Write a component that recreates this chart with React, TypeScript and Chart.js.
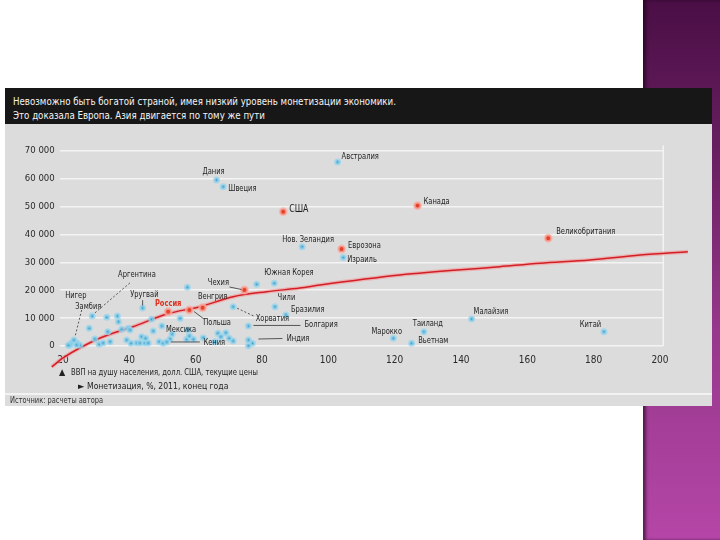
import React, { useEffect, useRef } from "react";
import { Chart, registerables } from "chart.js";

Chart.register(...registerables);

// ---- Data (x: monetization %, y: GDP per capita, USD) ----
const X_TICKS = [20, 40, 60, 80, 100, 120, 140, 160, 180, 200];
const Y_TICKS = [0, 10000, 20000, 30000, 40000, 50000, 60000, 70000];

const NAMED_COUNTRIES = [
  "Австралия", "Дания", "Швеция", "Нов. Зеландия", "Израиль", "Малайзия", "Таиланд",
  "Марокко", "Вьетнам", "Китай", "Южная Корея", "Хорватия", "Чили", "Бразилия",
  "Болгария", "Индия", "Аргентина", "Уругвай", "Нигер", "Замбия", "Мексика", "Кения",
];
const NAMED_MONET = [
  102.8, 66.3, 68.3, 92.1, 104.5, 143.2, 128.8,
  119.6, 125.1, 183.1, 83.7, 71.3, 83.9, 87.2,
  75.9, 75.9, 28.8, 44.0, 21.6, 23.3, 55.3, 51.3,
];
const NAMED_GDP = [
  66000, 59600, 57200, 35600, 31800, 9700, 5100,
  2800, 1000, 5100, 22500, 14100, 14100, 11100,
  7200, 2150, 10800, 13600, 300, 2150, 9900, 1450,
];

const RED_COUNTRIES = ["США", "Канада", "Еврозона", "Великобритания", "Чехия", "Венгрия", "Польша", "Россия"];
const RED_MONET = [86.4, 126.9, 104.0, 166.3, 74.7, 62.1, 58.1, 51.7];
const RED_GDP = [48200, 50400, 34800, 38700, 20100, 13750, 12900, 12300];

const OTHER_MONET = [
  22.6, 24.3, 25.1, 22.1, 24.1, 27.9, 29.6, 30.9, 32.1, 33.2, 33.5, 34.2, 36.4, 36.7,
  37.7, 39.2, 39.7, 40.2, 40.5, 42.2, 43.2, 44.7, 45.7, 43.7, 44.9, 47.2, 46.7, 49.0,
  50.2, 52.3, 52.9, 57.3, 58.1, 59.3, 62.3, 57.5, 49.8, 57.6, 66.7, 65.8, 69.1, 70.1,
  71.3, 77.1, 75.9, 78.4, 67.6,
];
const OTHER_GDP = [
  1180, 970, 300, 360, 360, 6350, 2510, 610, 1080, 10300, 5130, 1540, 10770, 8720,
  5990, 2150, 6350, 5740, 970, 1080, 1080, 1080, 1080, 3340, 2760, 5380, 9580, 1540,
  970, 2510, 4300, 2400, 3590, 2400, 2980, 21070, 7180, 5740, 4560, 1540, 4770, 2760,
  1790, 970, 100, 22150, 3340,
];

const CURVE_MONET = [16.6, 20, 31.2, 41.1, 51.3, 61.3, 71.3, 81.4, 91.4, 97.5, 121.6, 151.7, 163.8, 178.9, 194, 208.4];
const CURVE_GDP = [-7500, -4300, 2870, 6930, 11490, 14100, 17700, 19500, 20800, 21900, 25500, 28460, 29700, 30870, 32660, 33850];

// ---- Label layout (pixel offsets from each dot) ----
type Leader = { from: [number, number]; to: [number, number]; dash?: boolean };
type LabelLayout = { dx: number; dy: number; align: CanvasTextAlign; leader?: Leader; big?: boolean; red?: boolean };
const LAYOUT: Record<string, LabelLayout> = {
  "Австралия": { dx: 4, dy: -5, align: "left" },
  "Дания": { dx: -3, dy: -8, align: "center" },
  "Швеция": { dx: 5, dy: 2, align: "left" },
  "США": { dx: 6, dy: -2, align: "left", big: true },
  "Канада": { dx: 6, dy: -4, align: "left" },
  "Нов. Зеландия": { dx: 6, dy: -7.5, align: "center" },
  "Еврозона": { dx: 6.5, dy: -3, align: "left" },
  "Израиль": { dx: 4, dy: 2, align: "left" },
  "Великобритания": { dx: 8, dy: -6.6, align: "left" },
  "Малайзия": { dx: 2, dy: -7, align: "left" },
  "Таиланд": { dx: 4, dy: -8.5, align: "center" },
  "Марокко": { dx: -6.6, dy: -7, align: "center" },
  "Вьетнам": { dx: 6.6, dy: -2.6, align: "left" },
  "Китай": { dx: -13.5, dy: -7.4, align: "center" },
  "Южная Корея": { dx: 14.7, dy: -11, align: "center" },
  "Чехия": { dx: -26, dy: -7, align: "center", leader: { from: [-15, -3], to: [-3, -0.5] } },
  "Венгрия": { dx: 10, dy: -11.5, align: "center" },
  "Польша": { dx: 27.7, dy: 12.3, align: "center", leader: { from: [4.7, 1.5], to: [14.7, 9] } },
  "Россия": { dx: 0, dy: -8.5, align: "center", red: true },
  "Хорватия": { dx: 39.2, dy: 11.6, align: "center", leader: { from: [4, 1.5], to: [21, 9.5], dash: true } },
  "Чили": { dx: 11.5, dy: -8.7, align: "center" },
  "Бразилия": { dx: 5, dy: -5.7, align: "left" },
  "Болгария": { dx: 56, dy: -1, align: "left", leader: { from: [5, -0.5], to: [52, -0.5] } },
  "Индия": { dx: 38.4, dy: -1.7, align: "left", leader: { from: [10, -1], to: [34, -1.5] } },
  "Аргентина": { dx: 44.7, dy: -41, align: "center", leader: { from: [37.7, -33], to: [2.7, -3], dash: true } },
  "Уругвай": { dx: 1.8, dy: -13, align: "center", leader: { from: [0, -8], to: [0, -2.5] } },
  "Нигер": { dx: 7.5, dy: -50, align: "center" },
  "Замбия": { dx: 14.3, dy: -33.3, align: "center", leader: { from: [7.7, -30], to: [1, -3], dash: true } },
  "Мексика": { dx: 1, dy: 11, align: "center" },
  "Кения": { dx: 36.6, dy: 0.5, align: "left", leader: { from: [4, 0], to: [33, 0] } },
};

const NARROW = '"Liberation Sans Narrow", "DejaVu Sans Condensed", "Arial Narrow", sans-serif';
const SQUEEZE = 0.83;

const fmtY = (v: number) => (v === 0 ? "0" : `${Math.round(v / 1000)} 000`);

const labelsPlugin = {
  id: "countryLabels",
  afterDatasetsDraw(chart: any) {
    const ctx: CanvasRenderingContext2D = chart.ctx;
    const xs = chart.scales.x;
    const ys = chart.scales.y;
    const all: { name: string; x: number; y: number }[] = [];
    NAMED_COUNTRIES.forEach((n, i) => all.push({ name: n, x: NAMED_MONET[i], y: NAMED_GDP[i] }));
    RED_COUNTRIES.forEach((n, i) => all.push({ name: n, x: RED_MONET[i], y: RED_GDP[i] }));
    ctx.save();
    ctx.textBaseline = "middle";
    for (const p of all) {
      const L = LAYOUT[p.name];
      if (!L) continue;
      const px = xs.getPixelForValue(p.x);
      const py = ys.getPixelForValue(p.y);
      if (L.leader) {
        ctx.beginPath();
        ctx.strokeStyle = "#333";
        ctx.lineWidth = 0.8;
        ctx.setLineDash(L.leader.dash ? [2, 2] : []);
        ctx.moveTo(px + L.leader.from[0], py + L.leader.from[1]);
        ctx.lineTo(px + L.leader.to[0], py + L.leader.to[1]);
        ctx.stroke();
        ctx.setLineDash([]);
      }
      ctx.textAlign = L.align;
      ctx.fillStyle = L.red ? "#e0301e" : "#1e1e1e";
      ctx.font = L.red
        ? `bold 9px ${NARROW}`
        : L.big
        ? `10.5px ${NARROW}`
        : `9px ${NARROW}`;
      ctx.save();
      ctx.translate(px + L.dx, py + L.dy);
      ctx.scale(SQUEEZE, 1);
      ctx.fillText(p.name, 0, 0);
      ctx.restore();
    }
    ctx.restore();
  },
};

const framePlugin = {
  id: "frameLine",
  beforeDatasetsDraw(chart: any) {
    const { ctx, chartArea } = chart;
    ctx.save();
    ctx.strokeStyle = "#f3f3f3";
    ctx.lineWidth = 1.5;
    ctx.beginPath();
    ctx.moveTo(chartArea.right, chartArea.top);
    ctx.lineTo(chartArea.right, chartArea.bottom);
    ctx.stroke();
    ctx.restore();
  },
};

function ScatterChart() {
  const ref = useRef<HTMLCanvasElement | null>(null);
  useEffect(() => {
    if (!ref.current) return;
    const curve = CURVE_MONET.map((x, i) => ({ x, y: CURVE_GDP[i] }));
    const chart = new Chart(ref.current, {
      type: "scatter",
      data: {
        datasets: [
          {
            type: "line",
            data: curve,
            borderColor: "rgba(244,150,150,0.6)",
            borderWidth: 4,
            pointRadius: 0,
            cubicInterpolationMode: "monotone",
            clip: false,
            order: 5,
          } as any,
          {
            type: "line",
            data: curve,
            borderColor: "#d21f26",
            borderWidth: 1.5,
            pointRadius: 0,
            cubicInterpolationMode: "monotone",
            clip: false,
            order: 4,
          } as any,
          {
            data: OTHER_MONET.map((x, i) => ({ x, y: OTHER_GDP[i] })),
            pointRadius: 2,
            backgroundColor: "#1c86bb",
            borderColor: "rgba(150,212,236,0.75)",
            borderWidth: 3,
            clip: false,
            order: 3,
          } as any,
          {
            data: NAMED_MONET.map((x, i) => ({ x, y: NAMED_GDP[i] })),
            pointRadius: 2,
            backgroundColor: "#1c86bb",
            borderColor: "rgba(150,212,236,0.75)",
            borderWidth: 3,
            clip: false,
            order: 2,
          } as any,
          {
            data: RED_MONET.map((x, i) => ({ x, y: RED_GDP[i] })),
            pointRadius: 3.2,
            backgroundColor: "#e2432a",
            borderColor: "rgba(250,175,165,0.75)",
            borderWidth: 2.5,
            clip: false,
            order: 1,
          } as any,
        ],
      },
      options: {
        responsive: false,
        animation: false,
        layout: { padding: { left: 0, right: 56.7, top: 19.4, bottom: 28 } },
        plugins: { legend: { display: false }, tooltip: { enabled: false } },
        scales: {
          x: {
            type: "linear",
            min: 19,
            max: 201,
            afterBuildTicks: (ax: any) => {
              ax.ticks = X_TICKS.map((v) => ({ value: v }));
            },
            afterFit: (s: any) => {
              s.height = 20;
            },
            grid: { display: false, drawTicks: false },
            border: { display: false },
            ticks: {
              padding: 8,
              color: "#2a2a2a",
              font: { family: NARROW, size: 10 },
              callback: (v: any) => String(v),
            },
          },
          y: {
            type: "linear",
            min: 0,
            max: 72000,
            afterBuildTicks: (ax: any) => {
              ax.ticks = Y_TICKS.map((v) => ({ value: v }));
            },
            afterFit: (s: any) => {
              s.width = 59.7;
            },
            grid: { color: "#f4f4f4", lineWidth: 1.6, drawTicks: false },
            border: { display: false },
            ticks: {
              padding: 5,
              color: "#2a2a2a",
              font: { family: NARROW, size: 9.5 },
              callback: (v: any) => fmtY(Number(v)),
            },
          },
        },
      } as any,
      plugins: [framePlugin, labelsPlugin],
    });
    return () => chart.destroy();
  }, []);
  return (
    <canvas
      ref={ref}
      width={720}
      height={268}
      style={{ position: "absolute", left: 0, top: 126, width: 720, height: 268 }}
    />
  );
}

const squeezed = (scale: number): React.CSSProperties => ({
  display: "inline-block",
  transform: `scaleX(${scale})`,
  transformOrigin: "left center",
  whiteSpace: "nowrap",
});

export default function App() {
  const narrow = NARROW;
  return (
    <div style={{ position: "relative", width: 720, height: 540, background: "#ffffff", overflow: "hidden" }}>
      <style>{"body{margin:0}"}</style>
      <div
        style={{
          position: "absolute",
          left: 643,
          top: 0,
          width: 77,
          height: 540,
          background: "linear-gradient(to bottom, #4a0e45 0%, #6a2062 30%, #95378a 60%, #b546a7 100%)",
          boxShadow: "inset 3px 0 3px rgba(20,0,20,0.55)",
        }}
      />
      <div style={{ position: "absolute", left: 5, top: 88, width: 707, height: 318, background: "#dcdcdc" }} />
      <div
        style={{
          position: "absolute",
          left: 5,
          top: 88,
          width: 707,
          height: 36,
          background: "#171717",
          color: "#f4f4f4",
          fontFamily: narrow,
          fontSize: 11,
          lineHeight: "13.5px",
          padding: "7px 0 0 8px",
          boxSizing: "border-box",
        }}
      >
        <div><span style={squeezed(0.875)}>Невозможно быть богатой страной, имея низкий уровень монетизации экономики.</span></div>
        <div><span style={squeezed(0.875)}>Это доказала Европа. Азия двигается по тому же пути</span></div>
      </div>
      <ScatterChart />
      <div
        style={{
          position: "absolute",
          left: 59,
          top: 365,
          fontFamily: narrow,
          fontSize: 9.5,
          color: "#222",
          lineHeight: "14px",
          whiteSpace: "nowrap",
        }}
      >
        <div>
          <span style={{ fontSize: 9 }}>▲</span>&nbsp;&nbsp;<span style={squeezed(0.8)}>ВВП на душу населения, долл. США, текущие цены</span>
        </div>
        <div style={{ marginLeft: 19 }}>
          <span style={{ fontSize: 9 }}>►</span>&nbsp;<span style={squeezed(0.9)}>Монетизация, %, 2011, конец года</span>
        </div>
      </div>
      <div style={{ position: "absolute", left: 5, top: 393, width: 707, height: 1.5, background: "#f2f2f2" }} />
      <div
        style={{
          position: "absolute",
          left: 10,
          top: 395,
          fontFamily: narrow,
          fontSize: 8.5,
          color: "#333",
          whiteSpace: "nowrap",
        }}
      >
        <span style={squeezed(0.87)}>Источник: расчеты автора</span>
      </div>
    </div>
  );
}
